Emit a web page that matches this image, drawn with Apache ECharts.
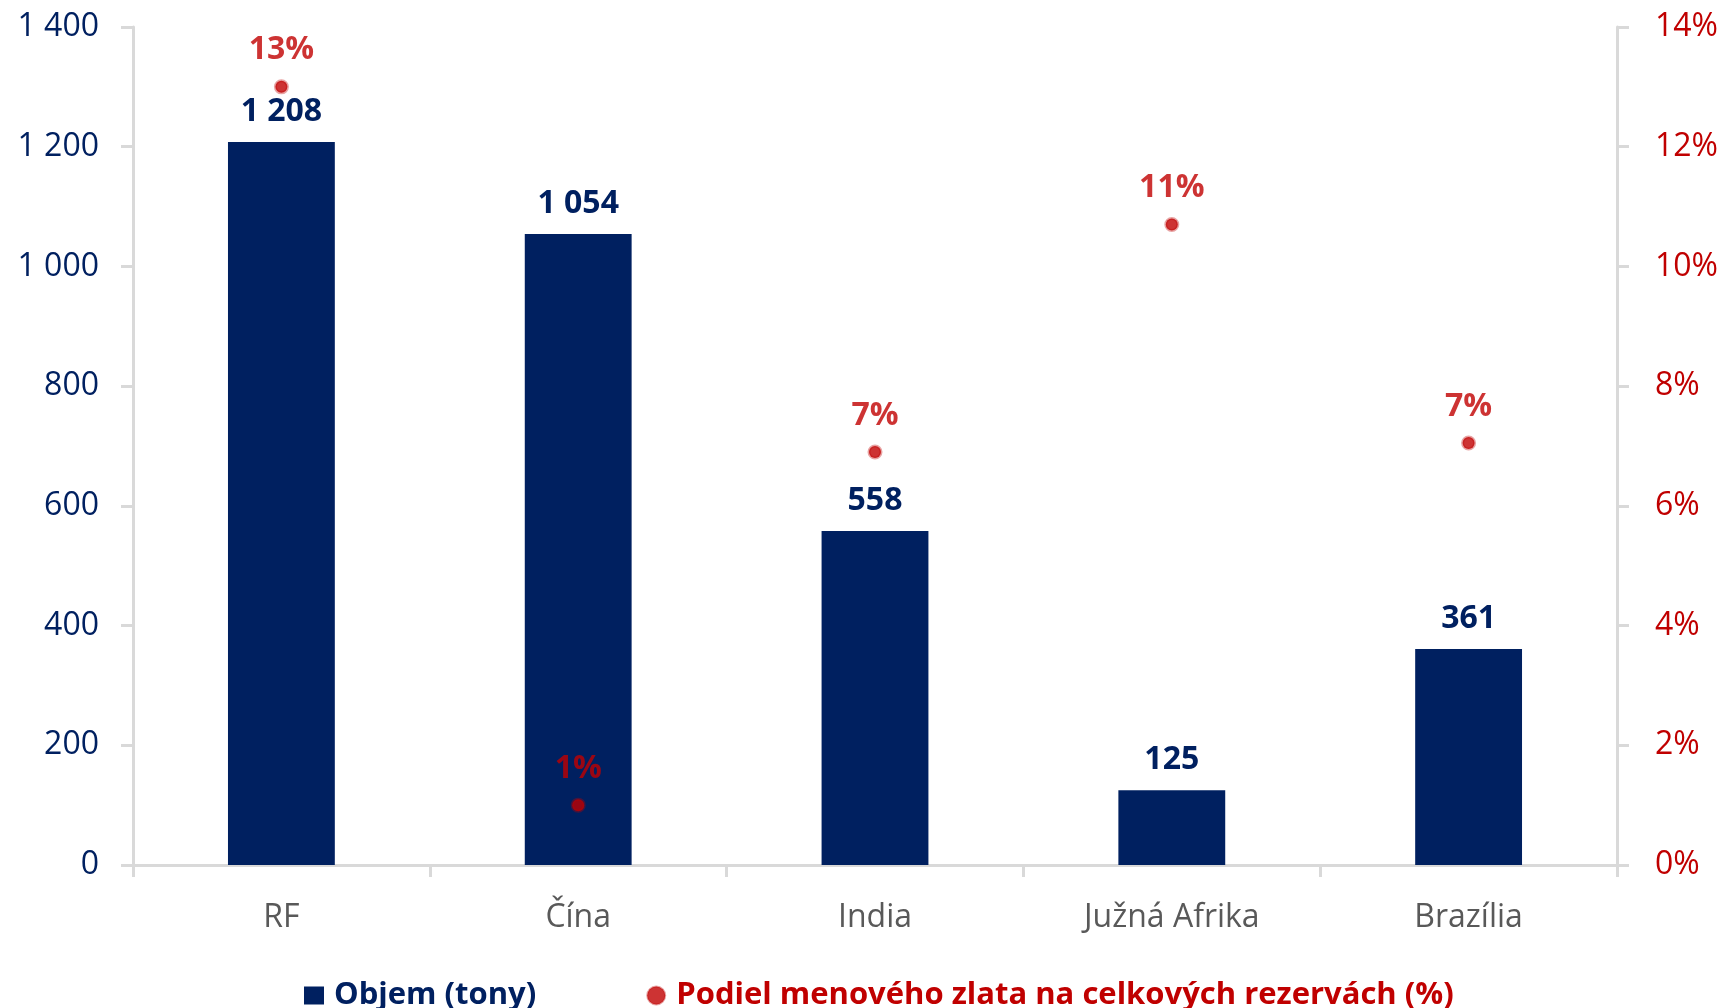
<!DOCTYPE html>
<html>
<head>
<meta charset="utf-8">
<script src="https://cdn.jsdelivr.net/npm/echarts@6/dist/echarts.min.js"></script>
<style>
  html, body { margin: 0; padding: 0; background: #fff; }
  #chart { width: 1724px; height: 1008px; }
</style>
</head>
<body>
<div id="chart"></div>
<script>
var categories = ['RF', 'Čína', 'India', 'Južná Afrika', 'Brazília'];
var objem = [1208, 1054, 558, 125, 361];
var podiel = [13.0, 1.0, 6.9, 10.7, 7.05];
var leftTicks = [0, 1400, 200];
var rightTicks = [0, 14, 2];

var navy = '#002060';
var red = '#C00000';
var axisGray = '#D9D9D9';
var font = '"Open Sans", "Noto Sans", sans-serif';

function spaced(v) {
    return String(v).replace(/\B(?=(\d{3})+(?!\d))/g, ' ');
}

var chart = echarts.init(document.getElementById('chart'));

var option = {
    animation: false,
    textStyle: { fontFamily: font },
    grid: { left: 133, right: 107, top: 27, bottom: 143 },
    legend: {
        left: 299,
        top: 975,
        itemWidth: 20,
        itemHeight: 18,
        itemGap: 110,
        textStyle: { fontSize: 31, fontWeight: 'bold', padding: [0, 0, 0, 5] },
        data: [
            { name: 'Objem (tony)', icon: 'rect', textStyle: { color: navy } },
            { name: 'Podiel menového zlata na celkových rezervách (%)', icon: 'circle', textStyle: { color: red } }
        ]
    },
    xAxis: {
        type: 'category',
        data: categories,
        axisLine: { lineStyle: { color: axisGray, width: 3 } },
        axisTick: { show: true, length: 12, lineStyle: { color: axisGray, width: 3 } },
        axisLabel: { color: '#595959', fontSize: 32, margin: 37 }
    },
    yAxis: [
        {
            type: 'value',
            min: leftTicks[0],
            max: leftTicks[1],
            interval: leftTicks[2],
            splitLine: { show: false },
            axisLine: { show: true, lineStyle: { color: axisGray, width: 3 } },
            axisTick: { show: true, length: 12, lineStyle: { color: axisGray, width: 3 } },
            axisLabel: { color: navy, fontSize: 32, margin: 34, formatter: spaced }
        },
        {
            type: 'value',
            position: 'right',
            min: rightTicks[0],
            max: rightTicks[1],
            interval: rightTicks[2],
            splitLine: { show: false },
            axisLine: { show: true, lineStyle: { color: axisGray, width: 3 } },
            axisTick: { show: true, length: 12, lineStyle: { color: axisGray, width: 3 } },
            axisLabel: { color: red, fontSize: 32, margin: 38, formatter: '{value}%' }
        }
    ],
    series: [
        {
            name: 'Objem (tony)',
            type: 'bar',
            yAxisIndex: 0,
            barWidth: '36%',
            itemStyle: { color: navy },
            label: {
                show: true,
                position: 'top',
                distance: 14,
                color: navy,
                fontSize: 32,
                fontWeight: 'bold',
                formatter: function (p) { return spaced(p.value); }
            },
            data: objem
        },
        {
            name: 'Podiel menového zlata na celkových rezervách (%)',
            type: 'scatter',
            yAxisIndex: 1,
            symbol: 'circle',
            symbolSize: 12,
            itemStyle: { color: red, borderColor: 'rgba(192,0,0,0.45)', borderWidth: 3 },
            label: {
                show: true,
                position: 'top',
                distance: 13,
                color: red,
                fontSize: 32,
                fontWeight: 'bold',
                formatter: function (p) { return Math.round(p.value) + '%'; }
            },
            z: 5,
            data: podiel
        }
    ]
};

chart.setOption(option);
</script>
</body>
</html>
